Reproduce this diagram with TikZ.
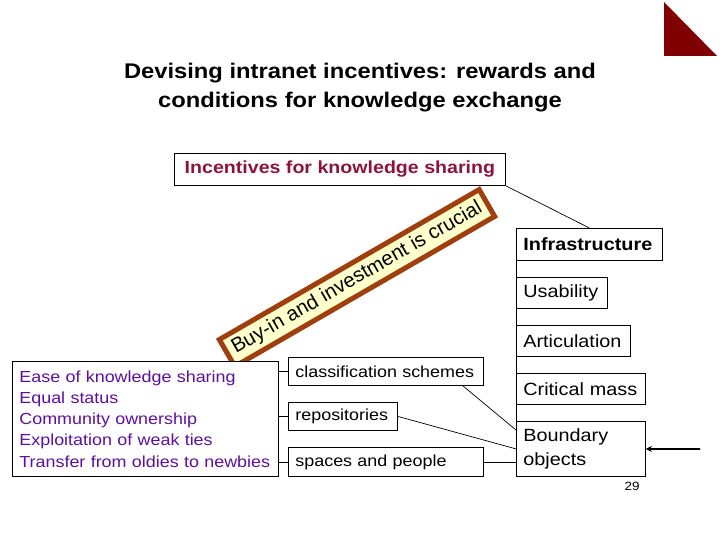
\documentclass[tikz,border=0pt]{standalone}
\usepackage{fontspec}
\setmainfont{Liberation Sans}[FakeStretch=1.12]
\newfontfamily\bannerfont{Liberation Sans}
\usetikzlibrary{arrows.meta,calc}
\definecolor{incred}{RGB}{140,20,60}
\definecolor{easepurple}{RGB}{95,15,160}
\definecolor{bannerfill}{RGB}{255,255,204}
\definecolor{bannerbrown}{RGB}{160,62,14}
\definecolor{cornerred}{RGB}{128,0,0}
\tikzset{
  box/.style={draw, fill=white, line width=0.8pt, anchor=north west, inner xsep=7pt, inner ysep=0pt, align=left},
  rbox/.style={box, font=\fontsize{17.7}{23}\selectfont},
  mbox/.style={box, font=\fontsize{16}{20}\selectfont},
  link/.style={draw, line width=0.7pt},
}
\begin{document}
\begin{tikzpicture}[x=1pt,y=-1pt]
\useasboundingbox (0,0) rectangle (720,540);
% corner triangle
\fill[cornerred] (664,2) -- (664,56) -- (717,56) -- cycle;
% title
\node[align=center, font=\bfseries\fontsize{21.2}{29}\selectfont] (title) at (360,88)
  {Devising intranet incentives: rewards and\\conditions for knowledge exchange};
% incentives box
\node[draw, line width=0.8pt, anchor=north west, minimum width=331pt, minimum height=32pt, inner sep=0pt,
  text=incred, font=\bfseries\fontsize{17.5}{21}\selectfont] (inc) at (174,153) {Incentives for knowledge sharing};
% banner
\node[draw=bannerbrown, fill=bannerfill, line width=5pt, rotate=30, minimum width=300pt, minimum height=31pt,
  inner sep=0pt, font=\bannerfont\fontsize{20.3}{24}\selectfont] (banner) at (357,278) {Buy-in and investment is crucial};
% ease box
\node[box, minimum width=266pt, minimum height=115pt, text width=252pt, text=easepurple,
  font=\fontsize{16}{21.25}\selectfont] (ease) at (12,361)
  {Ease of knowledge sharing\\Equal status\\Community ownership\\Exploitation of weak ties\\Transfer from oldies to newbies};
% middle boxes
\node[mbox, minimum width=195pt, minimum height=28pt, text width=181pt] (class) at (288,357) {classification schemes};
\node[mbox, minimum width=109pt, minimum height=28pt, text width=95pt] (repo) at (288,402) {repositories};
\node[mbox, minimum width=195pt, minimum height=29pt, text width=181pt] (space) at (288,447) {spaces and people};
% right boxes
\draw[link] (516,228) -- (516,476);
\node[rbox, font=\bfseries\fontsize{17.7}{23}\selectfont, minimum width=146pt, minimum height=32pt, text width=132pt] (infra) at (516,228) {Infrastructure};
\node[rbox, minimum width=91pt, minimum height=31pt, text width=77pt] (usab) at (516,277) {Usability};
\node[rbox, minimum width=114pt, minimum height=31pt, text width=100pt] (artic) at (516,325) {Articulation};
\node[rbox, minimum width=129pt, minimum height=31pt, text width=115pt] (crit) at (516,373) {Critical mass};
\node[rbox, minimum width=129pt, minimum height=55pt, text width=115pt, font=\fontsize{17.7}{24}\selectfont] (bound) at (516,421) {Boundary\\objects};
% connectors
\draw[link] (inc.south east) -- (infra.north);
\draw[link] (ease.east |- class.west) -- (class.west);
\draw[link] (ease.east |- repo.west) -- (repo.west);
\draw[link] (ease.east |- space.west) -- (space.west);
\coordinate (classout) at ($(class.south east)+(-21,0)$);
\coordinate (bin1) at ($(bound.north west)+(0,9)$);
\draw[link] (classout) -- (bin1);
\draw[link] (repo.east) -- (bound.west);
\draw[link] (space.east) -- (bound.west |- space.east);
\coordinate (arrstart) at (700,449);
\draw[line width=1.8pt, -{Stealth[length=6pt,width=6pt]}] (arrstart) -- (bound.east);
% page number
\node[font=\fontsize{12}{14}\selectfont] (pnum) at (632,486) {29};
\end{tikzpicture}
\end{document}
